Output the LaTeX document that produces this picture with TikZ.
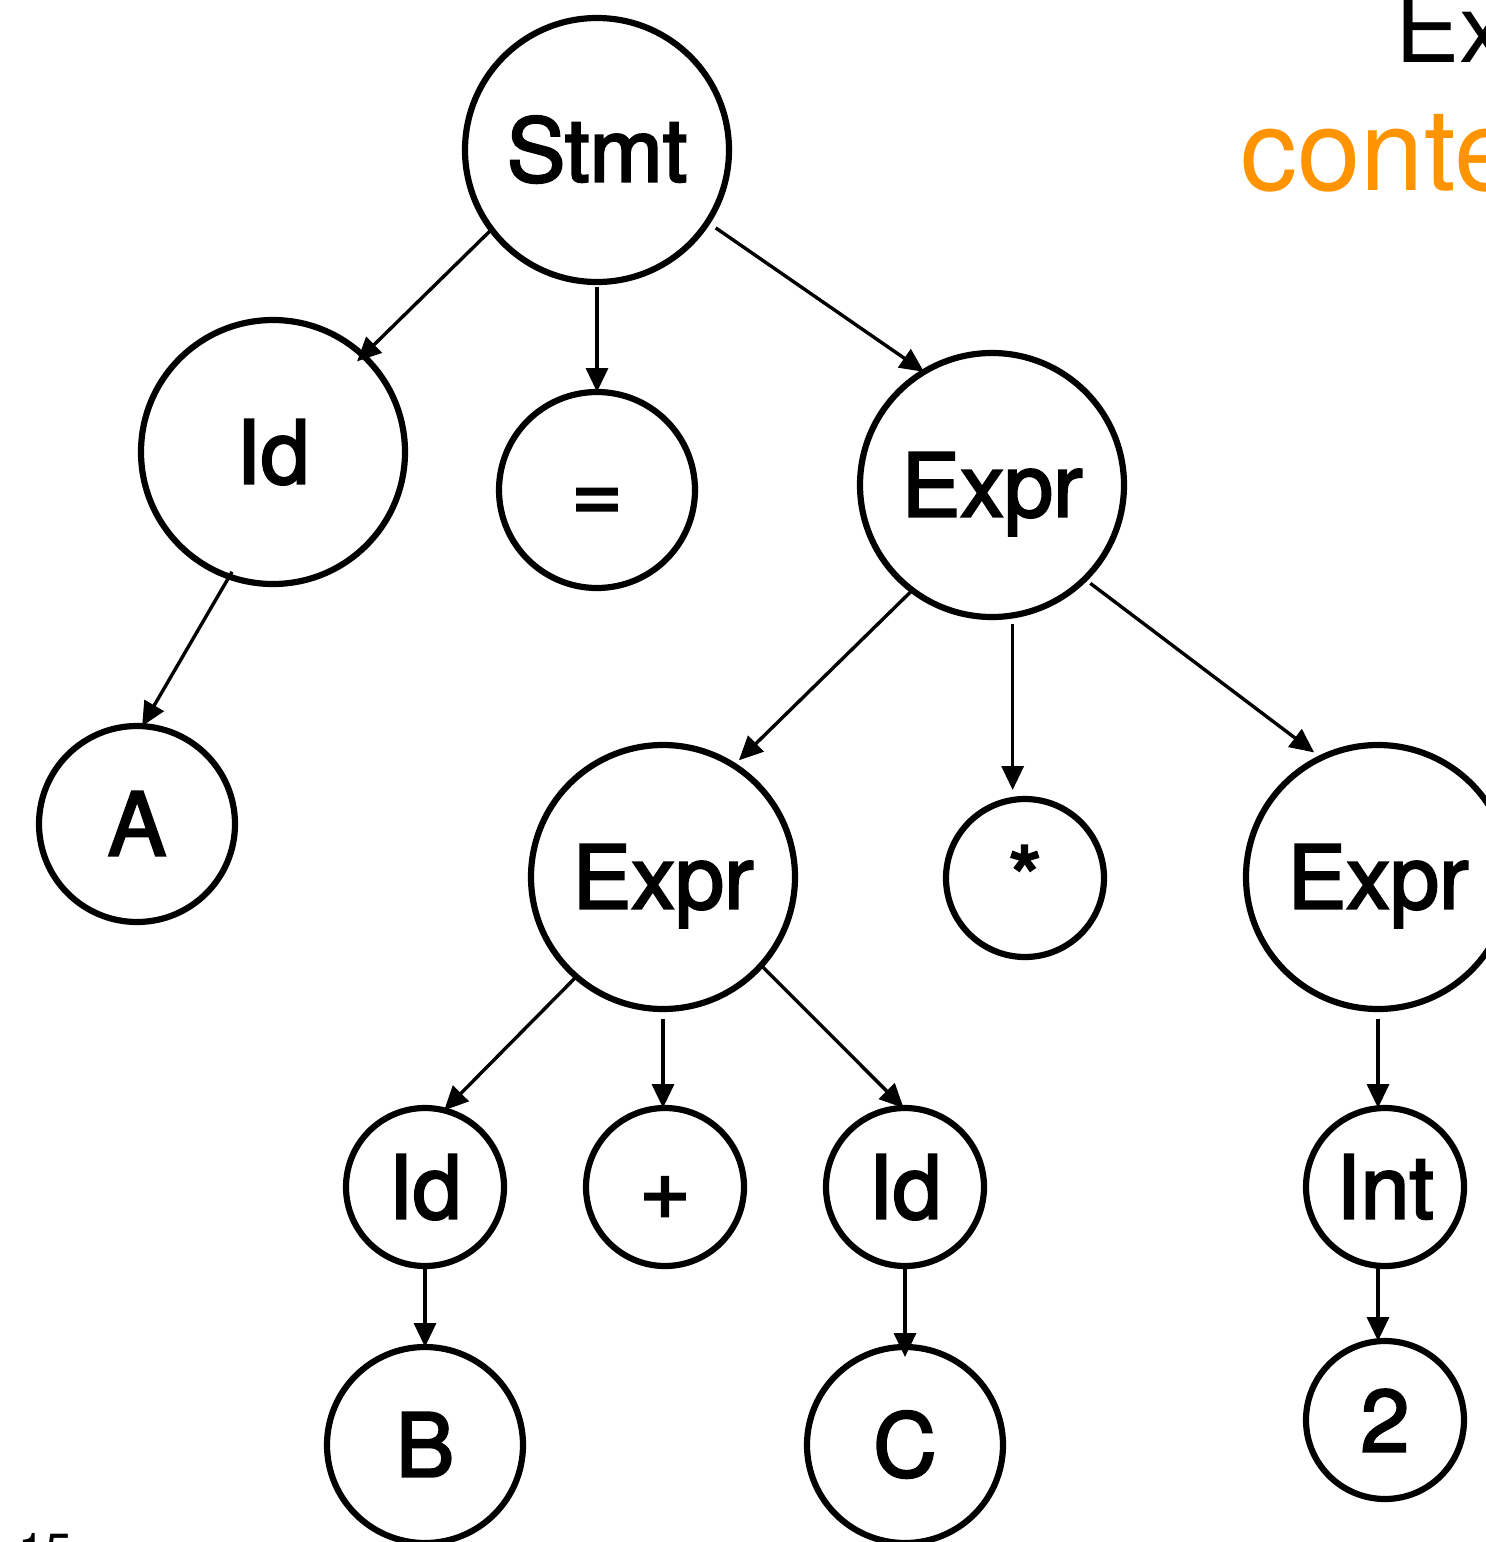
\documentclass[tikz,border=0pt]{standalone}
\usepackage{fontspec}
\setmainfont{TeX Gyre Heros}
\newfontfamily\nodefont[FakeBold=2.5]{TeX Gyre Heros}
\usetikzlibrary{arrows.meta,calc}
\definecolor{keyorange}{RGB}{255,147,0}
\begin{document}
\begin{tikzpicture}[x=0.5pt,y=-0.5pt,
  tnode/.style={circle,draw,line width=3.1pt,inner sep=0pt,outer sep=0pt,
    font=\nodefont\fontsize{44pt}{44pt}\selectfont,text height=31.6pt,text depth=0pt},
  big/.style={tnode,minimum size=132pt},
  mid/.style={tnode,minimum size=98pt},
  small/.style={tnode,minimum size=79pt},
  arr/.style={line width=1.7pt,-{Triangle[length=12pt,width=11pt]}}]
\useasboundingbox (0,0) rectangle (1486,1542);
\clip (0,0) rectangle (1486,1542);

% tree nodes
\node[big]   (stmt) at (597,150)  {Stmt};
\node[big]   (id1)  at (273,452)  {Id};
\node[mid]   (eq)   at (597,490)  {=};
\node[big]   (e1)   at (992,485)  {Expr};
\node[mid]   (a)    at (137,824)  {A};
\node[big]   (e2)   at (663,877)  {Expr};
\node[small] (star) at (1025,878) {*};
\node[big]   (e3)   at (1378,877) {Expr};
\node[small] (id2)  at (425,1187) {Id};
\node[small] (plus) at (665,1187) {+};
\node[small] (id3)  at (905,1187) {Id};
\node[small] (int)  at (1385,1187) {Int};
\node[mid]   (b)    at (425,1445) {B};
\node[mid]   (c)    at (905,1445) {C};
\node[small] (two)  at (1385,1420) {2};

% edges
\draw[arr] (stmt.217) -- ([shift={(-6,6)}]id1.47);
\draw[arr] ([shift={(0,5)}]stmt.south) -- (eq.north);
\draw[arr] ([shift={(8,6)}]stmt.-33) -- (e1.121);
\draw[arr] ([shift={(2,-5)}]id1.251) -- (a.87);
\draw[arr] ([shift={(3,3)}]e1.231) -- ([shift={(4,-6)}]e2.57);
\draw[arr] ([shift={(0,9)}]e1.-81) -- ([shift={(0,-9)}]e1.-81 |- star.north);
\draw[arr] ([shift={(5,5)}]e1.-45) -- ([shift={(-4,-7)}]e3.117);
\draw[arr] (e2.229) -- (id2.76);
\draw[arr] ([shift={(0,10)}]e2.south) -- (e2.south |- plus.north);
\draw[arr] (e2.-42) -- (id3.91);
\draw[arr] ([shift={(0,10)}]e3.south) -- (e3.south |- int.north);
\draw[arr] (id2.south -| b.north) -- (b.north);
\draw[arr] (id3.south) -- ([shift={(0,10)}]c.north);
\draw[arr] (e3.south |- int.south) -- (e3.south |- two.north);

% text at the page edges
\node[anchor=base west,inner sep=0pt,font=\fontsize{48pt}{48pt}\selectfont] (title) at (1395,62) {Ex};
\node[anchor=base west,inner sep=0pt,text=keyorange,font=\fontsize{57pt}{57pt}\selectfont] (sub) at (1240,190) {conte};
\node[anchor=base west,inner sep=0pt,font=\fontsize{24pt}{24pt}\selectfont] (page) at (18,1567) {15};
\end{tikzpicture}
\end{document}
